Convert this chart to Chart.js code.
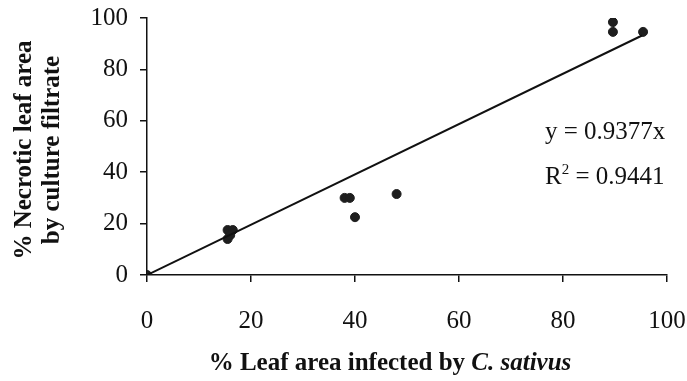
<!DOCTYPE html>
<html>
<head>
<meta charset="utf-8">
<script src="https://cdn.jsdelivr.net/npm/chart.js@4/dist/chart.umd.min.js"></script>
<style>
html,body{margin:0;padding:0;background:#fff;}
canvas{display:block;}
</style>
</head>
<body>
<canvas id="c" width="687" height="381"></canvas>
<script>
// ---- data ----
const xValues = [0, 15.5, 16.5, 15.5, 16, 38, 39, 40, 48, 89.6, 89.6, 95.4];
const yValues = [0, 17.5, 17.5, 14, 15.5, 30, 30, 22.5, 31.5, 98.4, 94.6, 94.6];
const trendX = [0, 95.2];
const trendY = [0, 93.2];
const xTicks = [0, 20, 40, 60, 80, 100];
const yTicks = [0, 20, 40, 60, 80, 100];
const yTitleLines = ['% Necrotic leaf area', 'by culture filtrate'];
const xTitlePlain = '% Leaf area infected by ';
const xTitleItalic = 'C. sativus';
const eqText = 'y = 0.9377x';
const r2Text = ' = 0.9441';

const SERIF = '"Liberation Serif", "Times New Roman", serif';

const points = xValues.map((x, i) => ({x: x, y: yValues[i]}));
const trend = trendX.map((x, i) => ({x: x, y: trendY[i]}));

const annot = {
  id: 'annot',
  afterDraw(chart) {
    const ctx = chart.ctx;
    ctx.save();
    ctx.fillStyle = '#111';
    // y title
    ctx.font = 'bold 25px ' + SERIF;
    ctx.textAlign = 'center';
    ctx.textBaseline = 'middle';
    const yc = 150;
    [25, 53].forEach((xx, i) => {
      ctx.save();
      ctx.translate(xx, yc);
      ctx.rotate(-Math.PI / 2);
      ctx.fillText(yTitleLines[i], 0, 0);
      ctx.restore();
    });
    // x title
    ctx.textAlign = 'left';
    ctx.textBaseline = 'alphabetic';
    const fPlain = 'bold 25px ' + SERIF;
    const fIt = 'italic bold 25px ' + SERIF;
    ctx.font = fPlain;
    const w1 = ctx.measureText(xTitlePlain).width;
    ctx.font = fIt;
    const w2 = ctx.measureText(xTitleItalic).width;
    let sx = 390 - (w1 + w2) / 2;
    const by = 370;
    ctx.font = fPlain;
    ctx.fillText(xTitlePlain, sx, by);
    ctx.font = fIt;
    ctx.fillText(xTitleItalic, sx + w1, by);
    // equation
    ctx.font = '25px ' + SERIF;
    ctx.fillText(eqText, 545, 139);
    ctx.fillText('R', 545, 184);
    const wr = ctx.measureText('R').width;
    ctx.font = '15px ' + SERIF;
    ctx.fillText('2', 545 + wr, 174);
    const w2s = ctx.measureText('2').width;
    ctx.font = '25px ' + SERIF;
    ctx.fillText(r2Text, 545 + wr + w2s, 184);
    ctx.restore();
  }
};

new Chart(document.getElementById('c'), {
  type: 'scatter',
  data: {
    datasets: [
      {
        type: 'line',
        data: trend,
        borderColor: '#111',
        borderWidth: 2,
        pointRadius: 0,
        fill: false,
        tension: 0
      },
      {
        data: points,
        backgroundColor: '#1e1e1e',
        borderColor: '#1e1e1e',
        pointRadius: 4.5,
        pointStyle: 'circle'
      }
    ]
  },
  options: {
    responsive: false,
    animation: false,
    devicePixelRatio: 1,
    layout: {padding: {left: 0, right: 20, top: 18, bottom: 0}},
    plugins: {legend: {display: false}, tooltip: {enabled: false}},
    scales: {
      x: {
        type: 'linear', min: 0, max: 100,
        afterFit(s) { s.height = 106; s.paddingLeft = 0; s.paddingRight = 0; },
        afterBuildTicks(s) { s.ticks = xTicks.map(v => ({value: v})); },
        grid: {drawOnChartArea: false, drawTicks: true, tickLength: 7, color: '#111', lineWidth: 1.5},
        border: {display: true, color: '#111', width: 1.5},
        ticks: {color: '#111', font: {family: SERIF, size: 25}, padding: 24, maxRotation: 0}
      },
      y: {
        type: 'linear', min: 0, max: 100,
        afterFit(s) { s.width = 147; s.paddingTop = 0; s.paddingBottom = 0; },
        afterBuildTicks(s) { s.ticks = yTicks.map(v => ({value: v})); },
        grid: {drawOnChartArea: false, drawTicks: true, tickLength: 7, color: '#111', lineWidth: 1.5},
        border: {display: true, color: '#111', width: 1.5},
        ticks: {color: '#111', font: {family: SERIF, size: 25}, padding: 12}
      }
    }
  },
  plugins: [annot]
});
</script>
</body>
</html>
